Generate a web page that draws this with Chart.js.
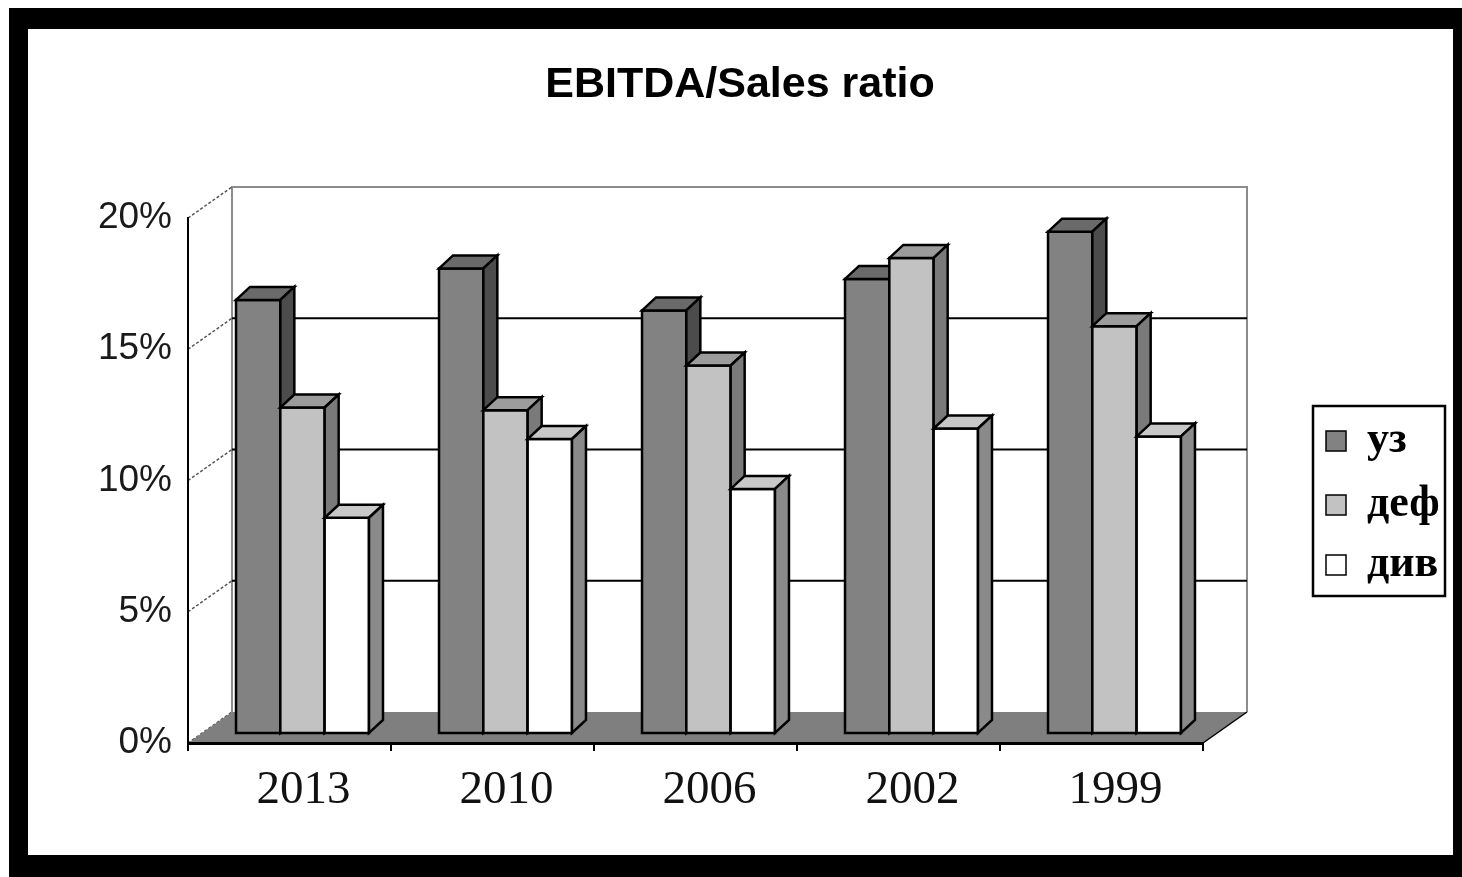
<!DOCTYPE html>
<html>
<head>
<meta charset="utf-8">
<title>EBITDA/Sales ratio</title>
<script src="https://cdn.jsdelivr.net/npm/chart.js@4.4.1/dist/chart.umd.min.js"></script>
<style>
  html, body { margin: 0; padding: 0; background: #ffffff; }
  #wrap { width: 1462px; height: 877px; }
</style>
</head>
<body>
<div id="wrap"><canvas id="chart" width="1462" height="877"></canvas></div>
<script>
// Years along the category axis
const categories = ['2013', '2010', '2006', '2002', '1999'];

// EBITDA / Sales, percent
const seriesNames = ['уз', 'деф', 'див'];
const uzValues  = [16.5, 17.7, 16.1, 17.3, 19.1];
const defValues = [12.4, 12.3, 14.0, 18.1, 15.5];
const divValues = [8.2, 11.2, 9.3, 11.6, 11.3];

// Value-axis ticks
const yTickValues = [0, 5, 10, 15, 20];

const chartTitle = 'EBITDA/Sales ratio';

// Face shading of each series: front, right side, top
const faceColors = [
  { front: '#828282', side: '#4c4c4c', top: '#6a6a6a' },
  { front: '#c2c2c2', side: '#7a7a7a', top: '#9c9c9c' },
  { front: '#ffffff', side: '#8a8a8a', top: '#c8c8c8' }
];

// Oblique projection offsets
const WALL  = { dx: 44, dy: -31 };   // front plane -> back wall
const BARS  = { dx: 13, dy: -10 };   // front plane -> bar front faces
const BOX   = { dx: 14, dy: -13 };   // bar front face -> bar back face

function poly(ctx, pts) {
  ctx.beginPath();
  ctx.moveTo(pts[0][0], pts[0][1]);
  for (let i = 1; i < pts.length; i++) ctx.lineTo(pts[i][0], pts[i][1]);
  ctx.closePath();
}

function drawBox(ctx, x0, x1, yTop, yBase, c) {
  ctx.lineWidth = 2.5;
  ctx.strokeStyle = '#000';
  ctx.lineJoin = 'miter';
  // front face
  poly(ctx, [[x0, yTop], [x1, yTop], [x1, yBase], [x0, yBase]]);
  ctx.fillStyle = c.front; ctx.fill(); ctx.stroke();
  // top face
  poly(ctx, [[x0, yTop], [x1, yTop], [x1 + BOX.dx, yTop + BOX.dy], [x0 + BOX.dx, yTop + BOX.dy]]);
  ctx.fillStyle = c.top; ctx.fill(); ctx.stroke();
  // right face
  poly(ctx, [[x1, yTop], [x1 + BOX.dx, yTop + BOX.dy], [x1 + BOX.dx, yBase + BOX.dy], [x1, yBase]]);
  ctx.fillStyle = c.side; ctx.fill(); ctx.stroke();
}

const threeD = {
  id: 'threeD',
  beforeDraw(chart) {
    const ctx = chart.ctx;
    ctx.save();
    ctx.fillStyle = '#ffffff';
    ctx.fillRect(0, 0, chart.width, chart.height);
    ctx.restore();
  },
  beforeDatasetsDraw(chart) {
    const ctx = chart.ctx;
    const ys = chart.scales.y;
    const L = chart.chartArea.left, R = chart.chartArea.right;
    const y0 = ys.getPixelForValue(0);
    const yMax = ys.getPixelForValue(yTickValues[yTickValues.length - 1]);
    ctx.save();

    // back wall edges
    ctx.strokeStyle = '#8c8c8c';
    ctx.lineWidth = 2;
    ctx.beginPath();
    ctx.moveTo(L + WALL.dx, y0 + WALL.dy);
    ctx.lineTo(L + WALL.dx, yMax + WALL.dy);
    ctx.lineTo(R + WALL.dx, yMax + WALL.dy);
    ctx.lineTo(R + WALL.dx, y0 + WALL.dy);
    ctx.stroke();

    // back wall gridlines
    ctx.strokeStyle = '#000';
    ctx.lineWidth = 2;
    yTickValues.forEach(v => {
      if (v === 0 || v === yTickValues[yTickValues.length - 1]) return;
      const y = ys.getPixelForValue(v) + WALL.dy;
      ctx.beginPath();
      ctx.moveTo(L + WALL.dx, y);
      ctx.lineTo(R + WALL.dx, y);
      ctx.stroke();
    });

    // side wall gridlines
    ctx.strokeStyle = '#555';
    ctx.lineWidth = 1.5;
    ctx.setLineDash([3, 2]);
    yTickValues.forEach(v => {
      const y = ys.getPixelForValue(v);
      ctx.beginPath();
      ctx.moveTo(L, y);
      ctx.lineTo(L + WALL.dx, y + WALL.dy);
      ctx.stroke();
    });
    ctx.setLineDash([]);

    // floor
    poly(ctx, [[L, y0], [R, y0], [R + WALL.dx, y0 + WALL.dy], [L + WALL.dx, y0 + WALL.dy]]);
    ctx.fillStyle = '#7f7f7f';
    ctx.fill();
    ctx.strokeStyle = '#000';
    ctx.lineWidth = 1.5;
    ctx.beginPath();
    ctx.moveTo(R, y0);
    ctx.lineTo(R + WALL.dx, y0 + WALL.dy);
    ctx.stroke();

    // bars, left to right so nearer faces overlap correctly
    const metas = chart.data.datasets.map((d, i) => chart.getDatasetMeta(i));
    for (let j = 0; j < categories.length; j++) {
      metas.forEach((meta, i) => {
        const el = meta.data[j];
        const half = el.width / 2;
        drawBox(ctx,
          el.x - half + BARS.dx, el.x + half + BARS.dx,
          el.y + BARS.dy, el.base + BARS.dy,
          faceColors[i]);
      });
    }
    ctx.restore();
    return false;
  },
  afterDraw(chart) {
    const ctx = chart.ctx;
    ctx.save();
    // title
    ctx.fillStyle = '#000';
    ctx.font = 'bold 43px "Liberation Sans"';
    ctx.textAlign = 'center';
    ctx.textBaseline = 'alphabetic';
    ctx.fillText(chartTitle, 740, 97);

    // legend
    const bx = 1313, by = 406, bw = 132, bh = 190;
    ctx.fillStyle = '#fff';
    ctx.fillRect(bx, by, bw, bh);
    ctx.strokeStyle = '#000';
    ctx.lineWidth = 2.5;
    ctx.strokeRect(bx, by, bw, bh);
    const rows = [441, 505, 565];
    chart.data.datasets.forEach((ds, i) => {
      const cy = rows[i];
      ctx.fillStyle = ds.backgroundColor;
      ctx.fillRect(1326, cy - 10, 20, 20);
      ctx.lineWidth = 1.5;
      ctx.strokeStyle = '#000';
      ctx.strokeRect(1326, cy - 10, 20, 20);
      ctx.fillStyle = '#000';
      ctx.font = 'bold 44px "Liberation Serif"';
      ctx.textBaseline = 'alphabetic';
      ctx.textAlign = 'left';
      ctx.fillText(ds.label, 1367, cy + 11);
    });
    // black frame around the picture
    ctx.fillStyle = '#000';
    ctx.fillRect(9, 8, 19, 860);
    ctx.fillRect(9, 8, 1453, 21);
    ctx.fillRect(1453, 8, 9, 869);
    ctx.fillRect(9, 855, 1453, 22);
    ctx.restore();
  }
};

const data = {
  labels: categories,
  datasets: [
    { label: seriesNames[0], data: uzValues,  backgroundColor: faceColors[0].front },
    { label: seriesNames[1], data: defValues, backgroundColor: faceColors[1].front },
    { label: seriesNames[2], data: divValues, backgroundColor: faceColors[2].front }
  ]
};

new Chart(document.getElementById('chart'), {
  type: 'bar',
  data,
  plugins: [threeD],
  options: {
    responsive: false,
    animation: false,
    devicePixelRatio: 1,
    layout: { padding: { top: 218, left: 0, right: 259, bottom: 0 } },
    datasets: { bar: { categoryPercentage: 0.655, barPercentage: 1.0 } },
    plugins: {
      legend: { display: false },
      tooltip: { enabled: false },
      title: { display: false }
    },
    scales: {
      x: {
        offset: true,
        grid: { display: true, drawOnChartArea: false, drawTicks: true, tickLength: 8, color: '#000', lineWidth: 2 },
        border: { display: true, color: '#000', width: 3, z: 1 },
        ticks: {
          color: '#111',
          font: { family: '"Liberation Serif"', size: 47 },
          padding: 11,
          labelOffset: 14,
          maxRotation: 0
        },
        afterFit(scale) { scale.height = 134; }
      },
      y: {
        min: 0,
        max: 20,
        afterBuildTicks(scale) { scale.ticks = yTickValues.map(v => ({ value: v })); },
        grid: { display: false },
        border: { display: true, color: '#000', width: 2, z: 1 },
        ticks: {
          color: '#1a1a1a',
          font: { family: '"Liberation Sans"', size: 37 },
          padding: 8,
          callback: v => v + '%'
        },
        afterFit(scale) { scale.width = 188; }
      }
    }
  }
});
</script>
</body>
</html>
